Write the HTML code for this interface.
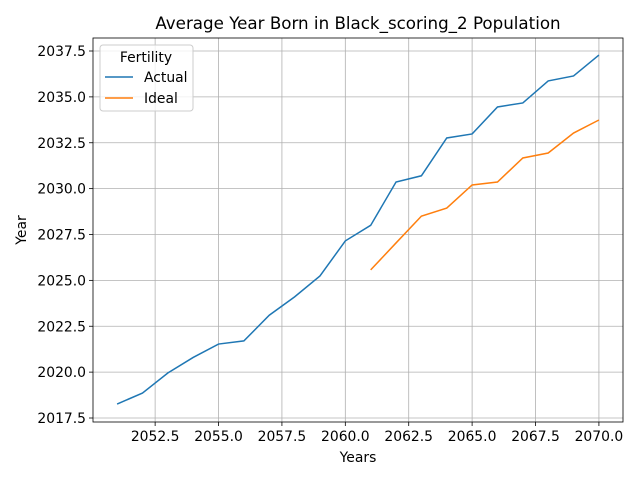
<!DOCTYPE html>
<html><head><meta charset="utf-8"><style>
body{margin:0;background:#fff;font-family:"Liberation Sans","DejaVu Sans",sans-serif}
svg text{font-family:"DejaVu Sans","Liberation Sans",sans-serif}
</style></head><body>
<svg id="chart" width="640" height="480" xmlns="http://www.w3.org/2000/svg"></svg>
<script>
const years=[2051,2052,2053,2054,2055,2056,2057,2058,2059,2060,2061,2062,2063,2064,2065,2066,2067,2068,2069,2070];
const actual=[2018.26,2018.86,2019.95,2020.8,2021.53,2021.7,2023.1,2024.1,2025.24,2027.15,2028.0,2030.36,2030.7,2032.76,2032.98,2034.45,2034.67,2035.87,2036.14,2037.28];
const idealYears=[2061,2062,2063,2064,2065,2066,2067,2068,2069,2070];
const ideal=[2025.57,2027.04,2028.5,2028.94,2030.2,2030.36,2031.67,2031.94,2033.03,2033.74];
const xTicks=[2052.5,2055.0,2057.5,2060.0,2062.5,2065.0,2067.5,2070.0];
const yTicks=[2017.5,2020.0,2022.5,2025.0,2027.5,2030.0,2032.5,2035.0,2037.5];

const L=93,R=623,T=38,B=422;
const NS="http://www.w3.org/2000/svg";
const svg=document.getElementById('chart');
const xmin=2051-0.95,xmax=2070+0.95;
const yPer=18.35, y0=2037.5, y0px=51;
const X=v=>L+(v-xmin)/(xmax-xmin)*(R-L);
const Y=v=>y0px+(y0-v)*yPer;
function el(tag,attrs,parent){const e=document.createElementNS(NS,tag);for(const k in attrs)e.setAttribute(k,attrs[k]);(parent||svg).appendChild(e);return e;}
function txt(s,attrs,parent){const e=el('text',attrs,parent);e.textContent=s;return e;}

const grid=el('g',{});


xTicks.forEach(t=>{const x=X(t);el('line',{x1:x,x2:x,y1:T,y2:B,stroke:'#b0b0b0','stroke-width':0.8},grid);
 el('line',{x1:x,x2:x,y1:B,y2:B+4,stroke:'#000','stroke-width':0.8});
 const l=txt(t.toFixed(1),{x:x,y:B+19,'font-size':13.9,'text-anchor':'middle',fill:'#000'});
 });
yTicks.forEach(t=>{const y=Y(t);el('line',{x1:L,x2:R,y1:y,y2:y,stroke:'#b0b0b0','stroke-width':0.8},grid);
 el('line',{x1:L-4,x2:L,y1:y,y2:y,stroke:'#000','stroke-width':0.8});
 const l=txt(t.toFixed(1),{x:L-7,y:y+5,'font-size':13.9,'text-anchor':'end',fill:'#000'});
 });

function line(xs,vs,color,name){const p=el('polyline',{points:xs.map((x,i)=>X(x)+','+Y(vs[i])).join(' '),fill:'none',stroke:color,'stroke-width':1.5});
 }
line(years,actual,'#1f77b4','actual-line');
line(idealYears,ideal,'#ff7f0e','ideal-line');

const frame=el('rect',{x:L,y:T,width:R-L,height:B-T,fill:'none',stroke:'#000','stroke-width':0.8});


const title=txt('Average Year Born in Black_scoring_2 Population',{x:(L+R)/2,y:29,'font-size':16.7,'text-anchor':'middle'});

const xt=txt('Years',{x:(L+R)/2,y:462,'font-size':13.9,'text-anchor':'middle'});

const yt=txt('Year',{x:26,y:230,'font-size':13.9,'text-anchor':'middle',transform:'rotate(-90 26 230)'});


const lg=el('g',{});

el('rect',{x:100,y:45,width:93,height:66,rx:3,fill:'#fff','fill-opacity':0.8,stroke:'#ccc'},lg);
txt('Fertility',{x:146,y:62,'font-size':13.9,'text-anchor':'middle'},lg);
el('line',{x1:105,x2:133,y1:77,y2:77,stroke:'#1f77b4','stroke-width':1.5},lg);
txt('Actual',{x:144,y:82,'font-size':13.9},lg);
el('line',{x1:105,x2:133,y1:98,y2:98,stroke:'#ff7f0e','stroke-width':1.5},lg);
txt('Ideal',{x:144,y:103,'font-size':13.9},lg);
</script>
</body></html>
